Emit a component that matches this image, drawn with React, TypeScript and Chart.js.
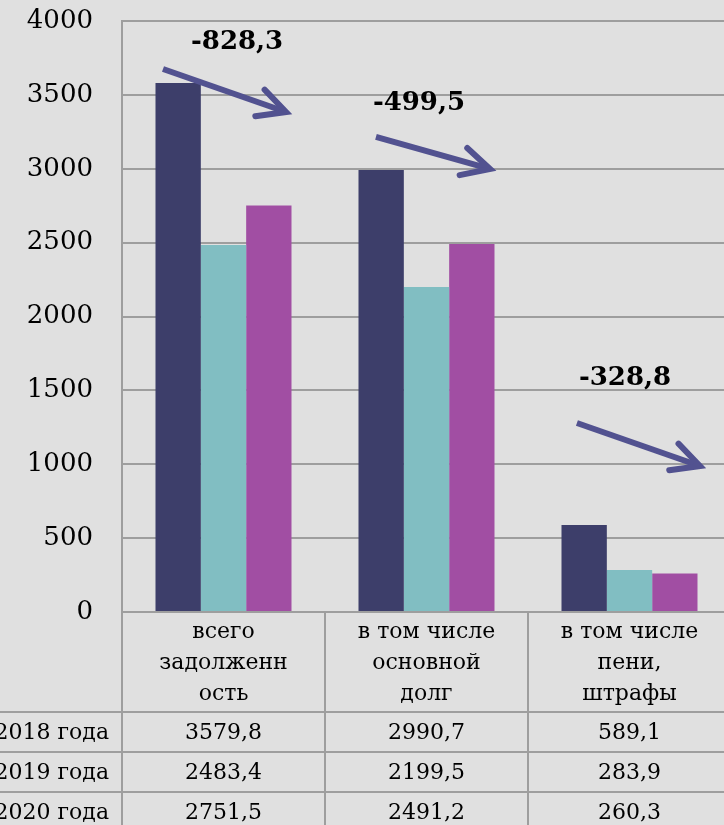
import React, { useEffect, useRef } from "react";
import { Chart, registerables } from "chart.js";

Chart.register(...registerables);

// ---- data ----
const categories: string[][] = [
  ["всего", "задолженн", "ость"],
  ["в том числе", "основной", "долг"],
  ["в том числе", "пени,", "штрафы"],
];
const seriesNames = ["2018 года", "2019 года", "2020 года"];
const values2018 = [3579.8, 2990.7, 589.1];
const values2019 = [2483.4, 2199.5, 283.9];
const values2020 = [2751.5, 2491.2, 260.3];
const yMin = 0;
const yMax = 4000;
const yStep = 500;
const changeLabels = ["-828,3", "-499,5", "-328,8"];

// ---- styles ----
const colors = ["#3d3e6a", "#81bec2", "#a14ea3"];
const gridColor = "#9e9e9e";
const arrowColor = "#525290";
const FONT = "'DejaVu Serif', serif";

// arrow geometry in (category offset, value) units
const arrowGeom = [
  { c: 0, x0: -0.298, v0: 3675, x1: 0.308, v1: 3384, lx: 0.067, lv: 3858 },
  { c: 1, x0: -0.249, v0: 3215, x1: 0.313, v1: 2998, lx: -0.037, lv: 3445 },
  { c: 2, x0: -0.259, v0: 1279, x1: 0.347, v1: 988, lx: -0.022, lv: 1584 },
];

const seriesValues = [values2018, values2019, values2020];

const fmt = (v: number) => v.toFixed(1).replace(".", ",");

const tablePlugin = {
  id: "dataTable",
  afterDraw(chart: any) {
    const ctx = chart.ctx as CanvasRenderingContext2D;
    const { left, right, bottom } = chart.chartArea;
    const n = categories.length;
    const w = (right - left) / n;
    const headerH = 100;
    const rowH = 40;
    const H = chart.height;
    ctx.save();
    ctx.strokeStyle = gridColor;
    ctx.lineWidth = 2;
    const line = (x1: number, y1: number, x2: number, y2: number) => {
      ctx.beginPath();
      ctx.moveTo(x1, y1);
      ctx.lineTo(x2, y2);
      ctx.stroke();
    };
    const headerBottom = bottom + headerH;
    for (let r = 0; r < seriesNames.length; r++) {
      const y = headerBottom + r * rowH;
      line(0, y, right, y);
    }
    for (let i = 0; i <= n; i++) {
      const x = left + i * w;
      line(x, bottom, x, H);
    }
    ctx.fillStyle = "#000";
    ctx.font = `22px ${FONT}`;
    ctx.textAlign = "center";
    ctx.textBaseline = "middle";
    const xs = chart.scales.x;
    for (let i = 0; i < n; i++) {
      const cx = xs.getPixelForValue(i);
      const lines = categories[i];
      lines.forEach((t, k) => {
        ctx.fillText(t, cx, bottom + 20 + k * 31);
      });
      for (let r = 0; r < seriesValues.length; r++) {
        ctx.fillText(fmt(seriesValues[r][i]), cx, headerBottom + r * rowH + rowH / 2 + 1);
      }
    }
    ctx.textAlign = "right";
    for (let r = 0; r < seriesNames.length; r++) {
      ctx.fillText(seriesNames[r], left - 13, headerBottom + r * rowH + rowH / 2 + 1);
    }
    ctx.restore();
  },
};

const arrowPlugin = {
  id: "arrows",
  afterDatasetsDraw(chart: any) {
    const ctx = chart.ctx as CanvasRenderingContext2D;
    const xs = chart.scales.x;
    const ys = chart.scales.y;
    const w = (chart.chartArea.right - chart.chartArea.left) / categories.length;
    ctx.save();
    arrowGeom.forEach((g, i) => {
      const cx = xs.getPixelForValue(g.c);
      const x0 = cx + g.x0 * w;
      const y0 = ys.getPixelForValue(g.v0);
      const x1 = cx + g.x1 * w;
      const y1 = ys.getPixelForValue(g.v1);
      const a = Math.atan2(y1 - y0, x1 - x0);
      ctx.strokeStyle = arrowColor;
      ctx.lineWidth = 6;
      ctx.lineCap = "butt";
      ctx.beginPath();
      ctx.moveTo(x0, y0);
      ctx.lineTo(x1 - 3 * Math.cos(a), y1 - 3 * Math.sin(a));
      ctx.stroke();
      const L = 31;
      const h = (27 * Math.PI) / 180;
      ctx.lineCap = "round";
      ctx.lineJoin = "miter";
      ctx.beginPath();
      ctx.moveTo(x1 - L * Math.cos(a - h), y1 - L * Math.sin(a - h));
      ctx.lineTo(x1, y1);
      ctx.lineTo(x1 - L * Math.cos(a + h), y1 - L * Math.sin(a + h));
      ctx.stroke();
      ctx.fillStyle = "#000";
      ctx.font = `bold 26px ${FONT}`;
      ctx.textAlign = "center";
      ctx.textBaseline = "middle";
      ctx.fillText(changeLabels[i], cx + g.lx * w, ys.getPixelForValue(g.lv));
    });
    ctx.restore();
  },
};

export default function App() {
  const ref = useRef<HTMLCanvasElement | null>(null);
  useEffect(() => {
    if (!ref.current) return;
    const chart = new Chart(ref.current, {
      type: "bar",
      data: {
        labels: categories,
        datasets: seriesNames.map((name, i) => ({
          label: name,
          data: seriesValues[i],
          backgroundColor: colors[i],
          borderWidth: 0,
          categoryPercentage: 0.67,
          barPercentage: 1.0,
        })),
      },
      options: {
        animation: false,
        responsive: false,
        maintainAspectRatio: false,
        layout: { padding: { left: 0, right: 9, top: 21, bottom: 213 } },
        plugins: { legend: { display: false }, tooltip: { enabled: false } },
        scales: {
          x: { display: false },
          y: {
            min: yMin,
            max: yMax,
            ticks: {
              stepSize: yStep,
              color: "#000",
              font: { family: "DejaVu Serif", size: 26 },
              padding: 29,
              callback: (v: any) => String(v),
            },
            grid: { color: gridColor, lineWidth: 2, drawTicks: false },
            border: { display: true, color: gridColor, width: 2 },
            afterFit: (s: any) => {
              s.width = 122;
              s.paddingTop = 0;
              s.paddingBottom = 0;
            },
          },
        },
      },
      plugins: [tablePlugin, arrowPlugin],
    });
    return () => chart.destroy();
  }, []);
  return (
    <div
      style={{
        position: "fixed",
        left: 0,
        top: 0,
        width: 724,
        height: 825,
        overflow: "hidden",
        background: "#e0e0e0",
      }}
    >
      <canvas ref={ref} width={740} height={825} style={{ display: "block" }} />
    </div>
  );
}
